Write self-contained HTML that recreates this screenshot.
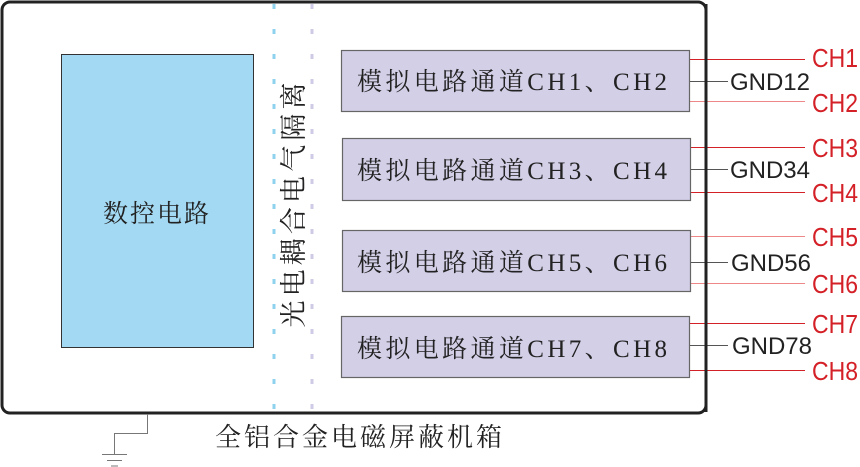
<!DOCTYPE html>
<html><head><meta charset="utf-8"><style>
html,body{margin:0;padding:0;background:#fff;width:860px;height:467px;overflow:hidden}
svg{display:block}
.cj{font-family:"Liberation Serif","Noto Serif CJK SC","Noto Sans CJK SC",serif;fill:#222}
.red{font-family:"Liberation Sans",sans-serif;fill:#d42027;font-size:26px}
.gnd{font-family:"Liberation Sans",sans-serif;fill:#222;font-size:24px}
</style></head><body>
<svg width="860" height="467" viewBox="0 0 860 467" xmlns="http://www.w3.org/2000/svg">
<rect x="2" y="2" width="704" height="411" rx="8" fill="#fff" stroke="#222" stroke-width="3"/>
<line x1="274" y1="4" x2="274" y2="412" stroke="#8fd2ee" stroke-width="3" stroke-dasharray="5 20"/>
<line x1="312" y1="4" x2="312" y2="412" stroke="#cfcbe6" stroke-width="3" stroke-dasharray="5 20"/>
<rect x="61.5" y="54.5" width="192" height="293" fill="#a3d9f3" stroke="#333" stroke-width="1"/>
<text x="157" y="222" class="cj" font-size="25" text-anchor="middle" letter-spacing="2">数控电路</text>
<text transform="translate(303,205) rotate(-90)" class="cj" font-size="27" text-anchor="middle" fill="#333" textLength="245" lengthAdjust="spacing">光电耦合电气隔离</text>

<g stroke-width="1">
<line x1="690" y1="59.5" x2="805" y2="59.5" stroke="#d42027"/>
<line x1="690" y1="81.5" x2="728" y2="81.5" stroke="#555"/>
<line x1="690" y1="101.5" x2="805" y2="101.5" stroke="#e88"/>
<line x1="690" y1="147.5" x2="805" y2="147.5" stroke="#d42027"/>
<line x1="690" y1="169.5" x2="728" y2="169.5" stroke="#555"/>
<line x1="690" y1="192.5" x2="805" y2="192.5" stroke="#d42027"/>
<line x1="690" y1="236.5" x2="805" y2="236.5" stroke="#e88"/>
<line x1="690" y1="262.5" x2="728" y2="262.5" stroke="#555"/>
<line x1="690" y1="283.5" x2="805" y2="283.5" stroke="#e88"/>
<line x1="690" y1="323.5" x2="805" y2="323.5" stroke="#d42027"/>
<line x1="690" y1="345.5" x2="728" y2="345.5" stroke="#555"/>
<line x1="690" y1="370.5" x2="805" y2="370.5" stroke="#d42027"/>
</g>
<line x1="706" y1="4" x2="706" y2="412" stroke="#222" stroke-width="3"/>

<g fill="#d2cfe7" stroke="#666" stroke-width="1.2">
<rect x="341.5" y="50.5" width="348" height="61"/>
<rect x="342.5" y="138.5" width="348" height="62"/>
<rect x="342.5" y="230.5" width="348" height="61"/>
<rect x="341.5" y="316.5" width="348" height="61"/>
</g>
<g class="cj" font-size="25">
<text x="357" y="90" textLength="310" lengthAdjust="spacing">模拟电路通道CH1、CH2</text>
<text x="357" y="179" textLength="310" lengthAdjust="spacing">模拟电路通道CH3、CH4</text>
<text x="357" y="271" textLength="310" lengthAdjust="spacing">模拟电路通道CH5、CH6</text>
<text x="357" y="357" textLength="310" lengthAdjust="spacing">模拟电路通道CH7、CH8</text>
</g>
<g class="gnd">
<text x="730" y="90" textLength="80" lengthAdjust="spacingAndGlyphs">GND12</text>
<text x="730" y="178" textLength="80" lengthAdjust="spacingAndGlyphs">GND34</text>
<text x="731" y="271" textLength="80" lengthAdjust="spacingAndGlyphs">GND56</text>
<text x="732" y="354" textLength="80" lengthAdjust="spacingAndGlyphs">GND78</text>
</g>
<g class="red">
<text x="812" y="67" textLength="46" lengthAdjust="spacingAndGlyphs">CH1</text>
<text x="812" y="112" textLength="46" lengthAdjust="spacingAndGlyphs">CH2</text>
<text x="812" y="157" textLength="46" lengthAdjust="spacingAndGlyphs">CH3</text>
<text x="812" y="202" textLength="46" lengthAdjust="spacingAndGlyphs">CH4</text>
<text x="812" y="246" textLength="46" lengthAdjust="spacingAndGlyphs">CH5</text>
<text x="812" y="293" textLength="46" lengthAdjust="spacingAndGlyphs">CH6</text>
<text x="812" y="333" textLength="46" lengthAdjust="spacingAndGlyphs">CH7</text>
<text x="812" y="380" textLength="46" lengthAdjust="spacingAndGlyphs">CH8</text>
</g>

<polyline points="147.5,414 147.5,433.5 114.5,433.5 114.5,454" fill="none" stroke="#777" stroke-width="1"/>
<line x1="102" y1="454.5" x2="127" y2="454.5" stroke="#777"/>
<line x1="107" y1="460.5" x2="122" y2="460.5" stroke="#777"/>
<line x1="111" y1="466" x2="118" y2="466" stroke="#777"/>
<text x="215" y="446" class="cj" font-size="26" textLength="287" lengthAdjust="spacing">全铝合金电磁屏蔽机箱</text>
</svg>
</body></html>
